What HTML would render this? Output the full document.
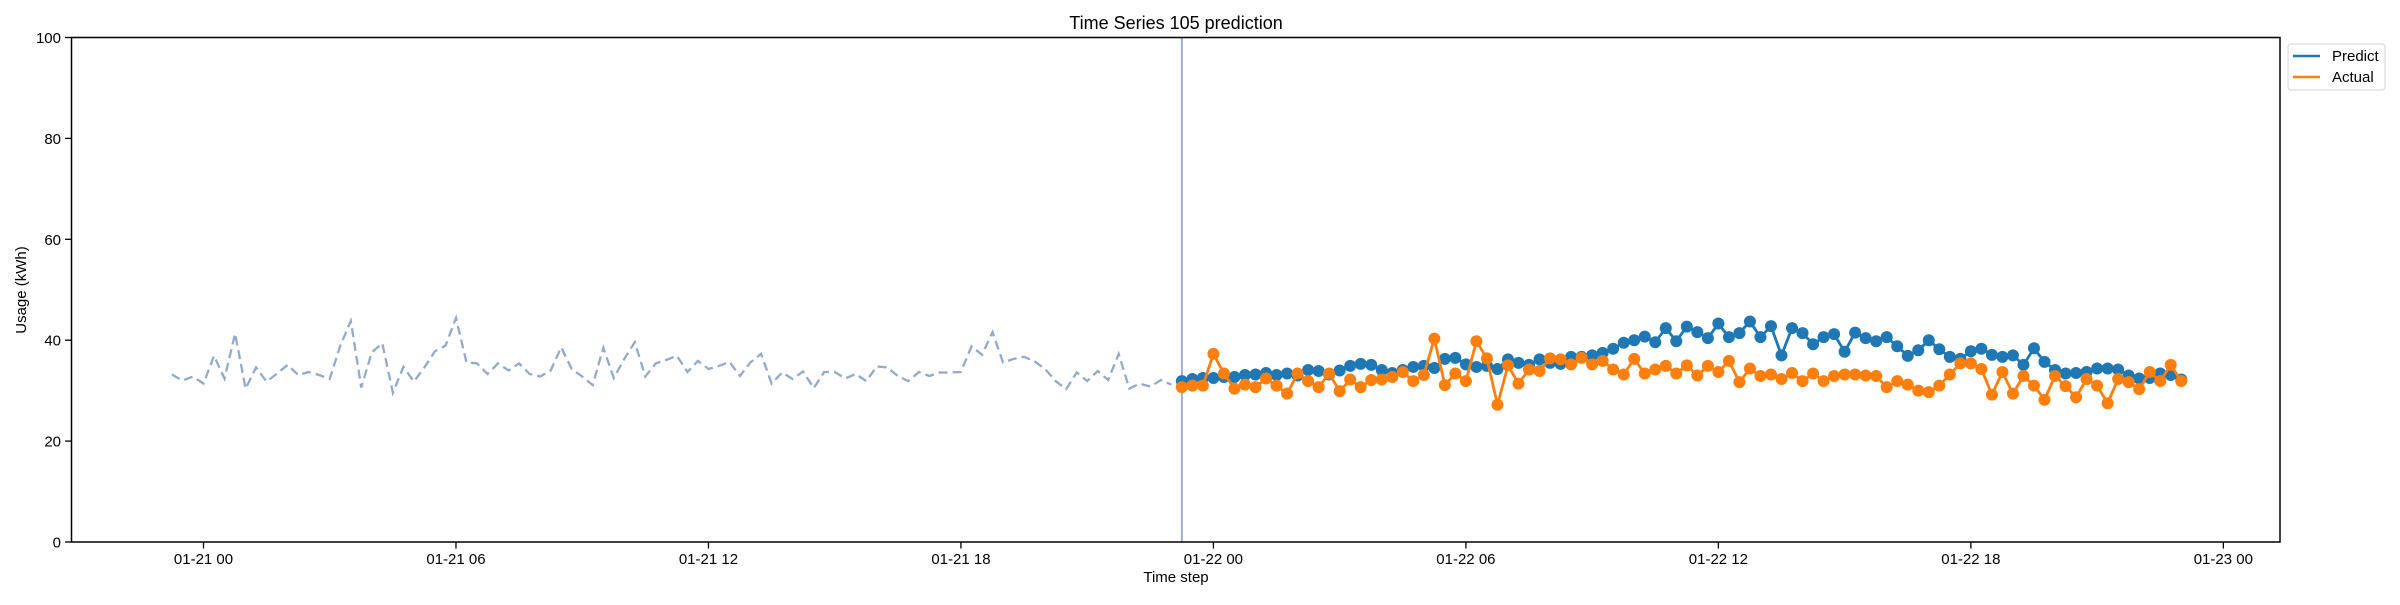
<!DOCTYPE html>
<html><head><meta charset="utf-8"><style>
body{margin:0;background:#fff;}
svg text{font-family:"Liberation Sans","DejaVu Sans",sans-serif;fill:#000;}
</style></head><body>
<svg id="chart" width="2400" height="600" xmlns="http://www.w3.org/2000/svg">
<rect width="2400" height="600" fill="#fff"/>
<text x="1176" y="29" font-size="18" text-anchor="middle">Time Series 105 prediction</text>
<text x="26" y="290" font-size="15" text-anchor="middle" transform="rotate(-90 26 290)">Usage (kWh)</text>
<text x="1176" y="582" font-size="15" text-anchor="middle">Time step</text>
<g id="yticks"></g>
<g id="xticks"></g>
<g id="marks"></g>
<rect x="71.5" y="37.5" width="2208.5" height="504.5" fill="none" stroke="#000" stroke-width="1.5"/>
<g>
<rect x="2288" y="44" width="97" height="46" rx="3" fill="#fff" stroke="#d5d5d5" stroke-width="1"/>
<g><line x1="2293" y1="56" x2="2320" y2="56" stroke="#1f77b4" stroke-width="2.5"/><text x="2332" y="61" font-size="15">Predict</text></g>
<g><line x1="2293" y1="77" x2="2320" y2="77" stroke="#ff7f0e" stroke-width="2.5"/><text x="2332" y="82" font-size="15">Actual</text></g>
</g>
</svg>
<script>
const historyValues=[33.2,32.0,32.8,31.4,36.9,32.4,41.3,30.4,34.6,31.8,33.4,35.1,33.1,33.7,33.1,32.3,38.9,43.8,30.6,37.6,39.4,29.6,34.7,31.8,34.6,37.8,38.9,44.4,35.6,35.4,33.3,35.4,
34.0,35.4,33.3,32.8,34.0,38.6,34.3,32.8,31.1,38.5,32.5,36.3,39.6,32.8,35.4,36.1,36.9,33.7,35.9,34.3,34.9,35.7,32.9,35.6,37.3,31.4,33.6,32.3,33.8,30.5,33.7,33.7,
32.4,33.3,31.9,34.8,34.6,32.9,31.9,33.7,32.9,33.6,33.6,33.7,38.8,37.1,41.6,35.6,36.3,36.7,35.8,34.3,31.9,30.3,33.6,31.9,33.9,32.1,37.3,30.4,31.4,30.8,32.1,31.2];
const predictValues=[31.9,32.3,32.5,32.5,32.7,32.7,33.1,33.2,33.5,33.1,33.4,33.0,34.1,33.9,33.2,34.0,34.9,35.3,35.1,34.1,33.5,34.1,34.7,34.9,34.5,36.3,36.5,35.2,34.7,34.9,34.3,36.2,
35.5,35.1,36.2,35.5,35.3,36.7,36.7,37.0,37.5,38.3,39.5,40.0,40.7,39.6,42.4,39.8,42.7,41.6,40.4,43.3,40.6,41.4,43.7,40.6,42.8,37.0,42.4,41.4,39.2,40.6,41.2,37.7,
41.5,40.4,39.8,40.6,38.8,36.9,38.0,40.0,38.2,36.7,36.3,37.8,38.3,37.1,36.7,37.0,35.1,38.4,35.7,34.1,33.4,33.5,33.7,34.4,34.4,34.2,33.0,32.4,32.5,33.4,33.1,32.2];
const actualValues=[30.7,31.0,31.0,37.3,33.4,30.4,31.2,30.7,32.4,31.0,29.4,33.4,31.9,30.7,33.4,29.9,32.2,30.7,32.1,32.2,32.7,33.7,31.9,33.1,40.3,31.1,33.4,31.9,39.8,36.4,27.2,35.0,
31.4,34.2,33.9,36.4,36.2,35.2,36.5,35.2,35.9,34.2,33.2,36.3,33.4,34.2,34.9,33.4,35.0,33.0,34.9,33.7,35.9,31.7,34.4,32.9,33.2,32.3,33.5,31.9,33.4,31.9,32.9,33.2,
33.2,33.0,32.9,30.7,31.9,31.2,30.0,29.7,31.0,33.2,35.4,35.4,34.3,29.2,33.7,29.4,32.9,31.0,28.2,32.9,30.9,28.7,32.3,31.0,27.5,32.3,31.7,30.3,33.7,31.9,35.1,31.9];
const historyStart=-3; // quarter-hours from 01-21 00:00
const predictStart=93;
const yTicks=[0,20,40,60,80,100];
const xTickLabels=["01-21 00","01-21 06","01-21 12","01-21 18","01-22 00","01-22 06","01-22 12","01-22 18","01-23 00"];
const xTickQuarters=[0,24,48,72,96,120,144,168,192];

const NS="http://www.w3.org/2000/svg";
const X0=203.5,QW=10.52;
function xs(q){return X0+q*QW;}
function ys(v){return 542-v*(504.5/100);}
function mk(tag,attrs,parent){const e=document.createElementNS(NS,tag);for(const k in attrs)e.setAttribute(k,attrs[k]);parent.appendChild(e);return e;}
const yg=document.getElementById('yticks'),xg=document.getElementById('xticks'),mg=document.getElementById('marks');
yTicks.forEach(v=>{
  const t=mk('line',{x1:65,x2:71.5,y1:ys(v),y2:ys(v),stroke:'#000','stroke-width':1.3},yg);
  
  
  const l=mk('text',{x:61,y:ys(v)+5.5,'font-size':15,'text-anchor':'end'},yg);l.textContent=v;
  
  
});
xTickLabels.forEach((lab,i)=>{
  const x=xs(xTickQuarters[i]);
  const t=mk('line',{x1:x,x2:x,y1:542,y2:548.5,stroke:'#000','stroke-width':1.3},xg);
  
  
  const l=mk('text',{x:x,y:564,'font-size':15,'text-anchor':'middle'},xg);l.textContent=lab;
  
  
});
function pts(vals,start){return vals.map((v,i)=>xs(start+i).toFixed(1)+','+ys(v).toFixed(1)).join(' ');}
const hl=mk('polyline',{points:pts(historyValues,historyStart),fill:'none',stroke:'#93aac8','stroke-width':2.3,'stroke-dasharray':'9,5'},mg);


const vl=mk('line',{x1:xs(predictStart),x2:xs(predictStart),y1:37.5,y2:542,stroke:'#a4acd0','stroke-width':2},mg);


function series(vals,color,name){
  const g=mk('g',{},mg);
  
  
  const pl=mk('polyline',{points:pts(vals,predictStart),fill:'none',stroke:color,'stroke-width':2.8},g);
  
  
  vals.forEach((v,i)=>{
    const c=mk('circle',{cx:xs(predictStart+i),cy:ys(v),r:6,fill:color},g);
    
    
  });
}
series(predictValues,'#1f77b4','predict');
series(actualValues,'#ff7f0e','actual');
</script>
</body></html>
